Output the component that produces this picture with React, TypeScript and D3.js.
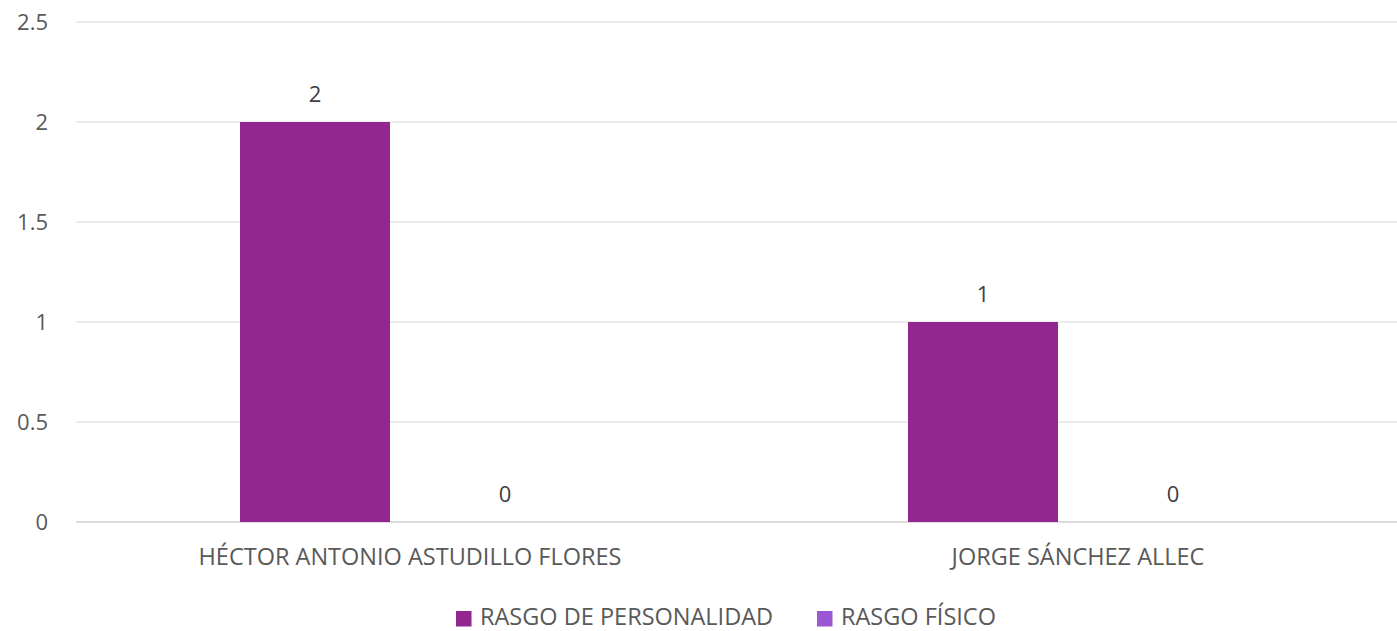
import * as d3 from "d3";
import { useEffect } from "react";

const categories = ["HÉCTOR ANTONIO ASTUDILLO FLORES", "JORGE SÁNCHEZ ALLEC"];
const seriesNames = ["RASGO DE PERSONALIDAD", "RASGO FÍSICO"];
const personalidad = [2, 1];
const fisico = [0, 0];
const yTicks = [0, 0.5, 1, 1.5, 2, 2.5];

const colors = ["#92278F", "#9B57D3"];

export default function App() {
  useEffect(() => {
    document.body.style.margin = "0";
  }, []);

  const width = 1397;
  const height = 631;
  const margin = { top: 22, left: 76, bottom: 109 };
  const plotRight = 1412; // plot area runs past the cropped right edge

  const x0 = d3
    .scaleBand()
    .domain(categories)
    .range([margin.left, plotRight])
    .paddingInner(0)
    .paddingOuter(0);

  const bw = x0.bandwidth();
  const x1 = d3
    .scaleBand()
    .domain(seriesNames)
    .range([bw * 0.2455, bw * 0.7545])
    .paddingInner(0.2105);

  const y = d3.scaleLinear().domain([0, 2.5]).range([height - margin.bottom, margin.top]);

  const seriesData = [personalidad, fisico];
  const font = "'Open Sans', 'Liberation Sans', sans-serif";
  const textColor = "#595959";

  const legendItems = [
    { name: seriesNames[0], x: 456, color: colors[0] },
    { name: seriesNames[1], x: 817, color: colors[1] },
  ];

  return (
    <svg width={width} height={height} style={{ display: "block", background: "#fff" }} fontFamily={font}>
      {/* grid */}
      {yTicks.map((t) => (
        <g key={t}>
          <line
            x1={margin.left}
            x2={width}
            y1={y(t)}
            y2={y(t)}
            stroke={t === 0 ? "#d0d0d0" : "#d9d9d9"}
            strokeWidth={t === 0 ? 1.5 : 1.2}
          />
          <text x={48} y={y(t)} dy="0.35em" textAnchor="end" fontSize={22} fill={textColor}>
            {d3.format("")(t)}
          </text>
        </g>
      ))}

      {/* bars */}
      {categories.map((c, ci) => (
        <g key={c} transform={`translate(${x0(c)},0)`}>
          {seriesNames.map((s, si) => {
            const v = seriesData[si][ci];
            const bx = x1(s)!;
            return (
              <g key={s}>
                <rect
                  x={bx}
                  y={y(v)}
                  width={x1.bandwidth()}
                  height={y(0) - y(v)}
                  fill={colors[si]}
                />
                <text
                  x={bx + x1.bandwidth() / 2}
                  y={y(v) - 20}
                  textAnchor="middle"
                  fontSize={22}
                  fill="#404040"
                >
                  {v}
                </text>
              </g>
            );
          })}
          <text x={bw / 2} y={565} textAnchor="middle" fontSize={23.5} fill={textColor}>
            {c}
          </text>
        </g>
      ))}

      {/* legend */}
      {legendItems.map((l) => (
        <g key={l.name}>
          <rect x={l.x} y={611} width={15.5} height={15.5} fill={l.color} />
          <text x={l.x + 24} y={625} fontSize={23.5} fill={textColor}>
            {l.name}
          </text>
        </g>
      ))}
    </svg>
  );
}
